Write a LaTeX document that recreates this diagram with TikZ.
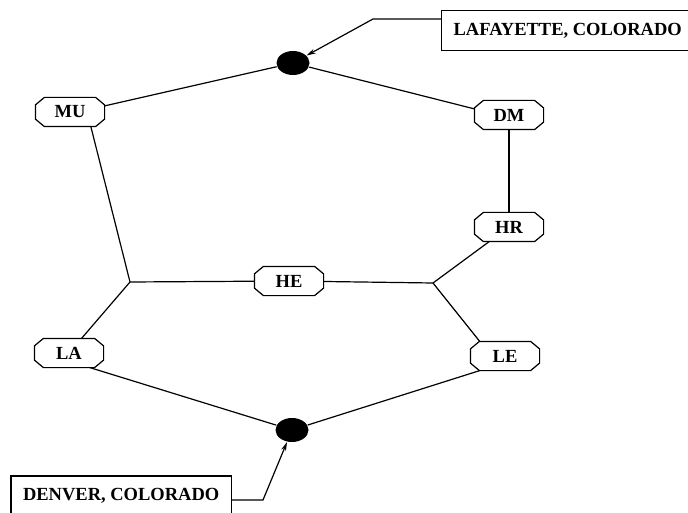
\documentclass[tikz,border=0pt]{standalone}
\usepackage{fontspec}
\setmainfont{Liberation Serif}
\usetikzlibrary{shapes.geometric,arrows.meta}
% contorno octogonal alrededor de una estación
\newcommand{\octa}[1]{%
  \draw ([xshift=9pt]#1.north west) -- ([xshift=-9pt]#1.north east)
     -- ([yshift=-7.5pt]#1.north east) -- ([yshift=7.5pt]#1.south east)
     -- ([xshift=-9pt]#1.south east) -- ([xshift=9pt]#1.south west)
     -- ([yshift=7.5pt]#1.south west) -- ([yshift=-7.5pt]#1.north west) -- cycle;}
\begin{document}
\begin{tikzpicture}[
    x=1pt, y=-1pt,
    site/.style={rectangle, minimum width=68pt, minimum height=28pt, inner sep=0pt,
        font=\bfseries\fontsize{18.5}{20}\selectfont},
    hub/.style={ellipse, fill=black, minimum width=33pt, minimum height=24pt, inner sep=0pt},
    city/.style={rectangle, draw, line width=1.3pt, minimum height=40pt, inner xsep=12pt, font=\bfseries\fontsize{18.5}{21}\selectfont},
    line width=1.2pt
]
    \useasboundingbox (0,0) rectangle (688,513);
    % Nodos terminales (puntos negros)
    \node[hub] (top) at (293,63) {};
    \node[hub] (bot) at (292,430) {};

    % Estaciones intermedias
    \node[site] (mu) at (70,112) {MU};
    \node[site] (dm) at (509,115) {DM};
    \node[site] (hr) at (509,227) {HR};
    \node[site] (he) at (289,281) {HE};
    \node[site] (la) at (69,353) {LA};
    \node[site] (le) at (505,356) {LE};
    \foreach \n in {mu,dm,hr,he,la,le} \octa{\n};

    % Cruces de la red
    \coordinate (jl) at (130,282);
    \coordinate (jr) at (433,283);

    % Enlaces
    \draw (top) -- (mu.10);
    \draw (top) -- (dm.170);
    \draw (dm) -- (hr);
    \draw (hr) -- (jr);
    \draw (mu.-35) -- (jl);
    \draw (jl) -- (he) -- (jr);
    \draw (jl) -- (la);
    \draw (jr) -- (le.150);
    \draw (la.-35) -- (bot);
    \draw (le.-150) -- (bot);

    % Rótulos de las ciudades
    \node[city, anchor=west] (laf) at (441,30.5) {LAFAYETTE, COLORADO};
    \node[city, anchor=east] (den) at (232,496) {DENVER, COLORADO};
    \coordinate (lafbend) at (373,19);
    \coordinate (denbend) at (263,500);
    \draw[-{Stealth[length=9pt,width=5pt]}] ([yshift=11.5pt]laf.west) -- (lafbend) -- (top);
    \draw[-{Stealth[length=9pt,width=5pt]}] ([yshift=-4pt]den.east) -- (denbend) -- (bot);
\end{tikzpicture}
\end{document}
